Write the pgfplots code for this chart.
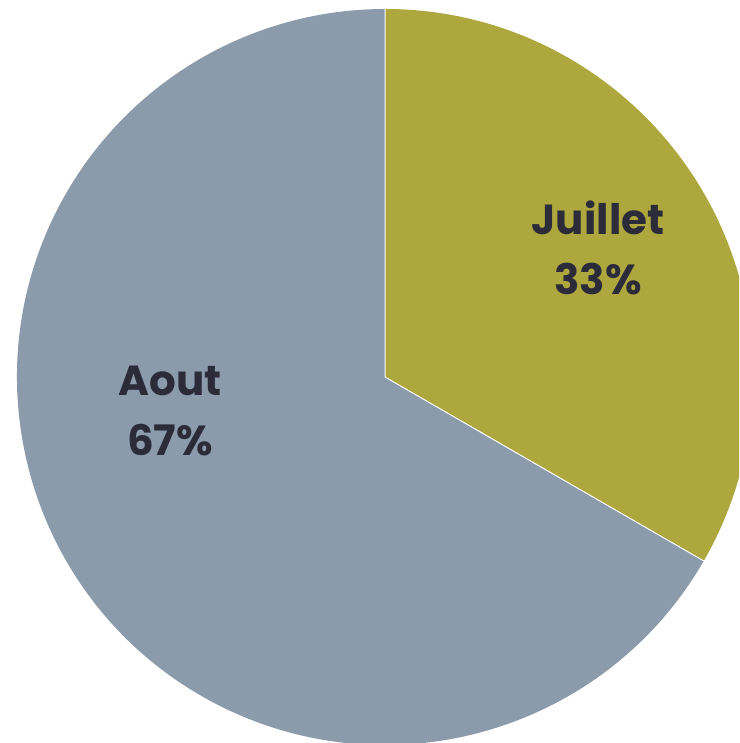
\documentclass[border=0pt]{standalone}
\usepackage{pgfplots}
\usepackage{pgfplotstable}
\pgfplotsset{compat=1.18}
\usepackage{fontspec}
\setmainfont{Poppins}
\definecolor{cJ}{HTML}{ADA73D}
\definecolor{cA}{HTML}{8B9BAB}
\definecolor{cT}{HTML}{2B2B3A}
\pgfplotstableread{
label value
Juillet 33.33
Aout 66.67
}\piedata
\pgfplotstablegetelem{0}{value}\of\piedata \let\vA\pgfplotsretval
\pgfplotstablegetelem{1}{value}\of\piedata \let\vB\pgfplotsretval
\pgfmathsetmacro\aEnd{90-3.6*\vA}
\pgfmathsetmacro\bEnd{\aEnd-3.6*\vB}
\begin{document}%
\begin{tikzpicture}
\begin{axis}[
  x=0.5pt, y=0.5pt,
  xmin=-385, xmax=354, ymin=-366, ymax=377,
  hide axis, clip=true, scale only axis,
]
\addplot[draw=none, forget plot] coordinates {(0,0)};
\fill[cJ] (axis cs:0,0) -- (axis cs:0,368) arc[start angle=90, end angle=\aEnd, radius=184pt] -- cycle;
\fill[cA] (axis cs:0,0) -- ({axis cs:{368*cos(\aEnd)},{368*sin(\aEnd)}}) arc[start angle=\aEnd, end angle=\bEnd, radius=184pt] -- cycle;
\draw[white, line width=0.5pt] ({axis cs:{368*cos(\aEnd)},{368*sin(\aEnd)}}) -- (axis cs:0,0) -- (axis cs:0,368);
\node[text=cT, font=\fontsize{21}{30}\selectfont\bfseries, align=center] at (axis cs:213,129) {Juillet\\33\%};
\node[text=cT, font=\fontsize{21}{30}\selectfont\bfseries, align=center] at (axis cs:-215,-34) {Aout\\67\%};
\end{axis}
\pgfresetboundingbox
\path[use as bounding box] (current axis.south west) rectangle (current axis.north east);
\end{tikzpicture}%
\end{document}
